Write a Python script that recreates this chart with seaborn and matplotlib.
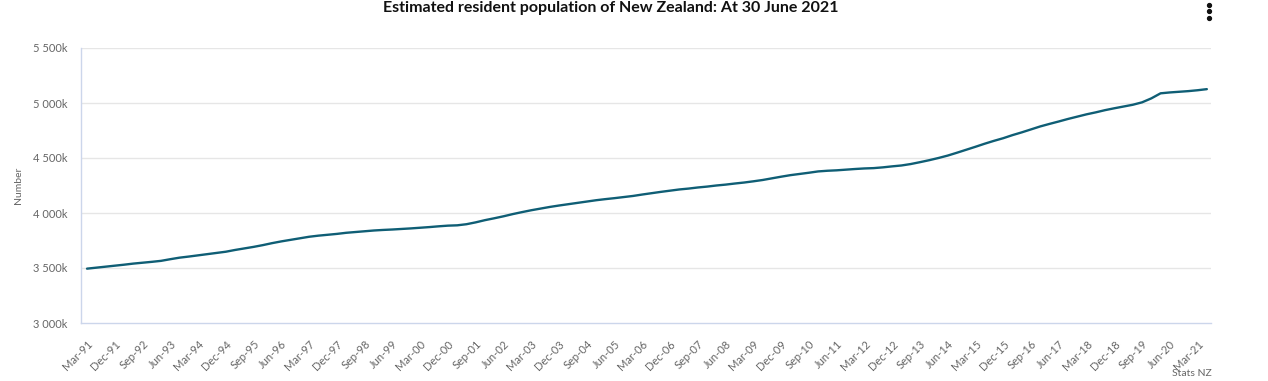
import matplotlib
matplotlib.use("Agg")
import matplotlib.pyplot as plt
from matplotlib.lines import Line2D
from matplotlib.ticker import FuncFormatter
import pandas as pd
import seaborn as sns

# Quarterly estimated resident population (thousands), Mar-91 .. Jun-21
years = list(range(1991, 2022))
months = ["Mar", "Jun", "Sep", "Dec"]
population_k = [
    3494, 3503, 3512, 3521,
    3530, 3540, 3548, 3556,
    3565, 3580, 3594, 3604,
    3615, 3626, 3637, 3648,
    3664, 3678, 3692, 3708,
    3726, 3742, 3756, 3770,
    3784, 3794, 3802, 3810,
    3820, 3827, 3834, 3841,
    3846, 3850, 3855, 3860,
    3866, 3872, 3879, 3885,
    3888, 3898, 3915, 3935,
    3952, 3970, 3990, 4008,
    4025, 4040, 4055, 4068,
    4080, 4092, 4104, 4116,
    4126, 4135, 4145, 4155,
    4168, 4180, 4192, 4203,
    4214, 4222, 4232, 4240,
    4250, 4258, 4268, 4277,
    4288, 4300, 4315, 4330,
    4344, 4355, 4366, 4378,
    4384, 4388, 4394, 4400,
    4405, 4408, 4415, 4424,
    4432, 4445, 4462, 4480,
    4500, 4522, 4548, 4575,
    4602, 4630, 4656, 4680,
    4708, 4733, 4760, 4787,
    4810, 4832, 4855, 4876,
    4897, 4915, 4935, 4952,
    4968, 4984, 5006, 5042,
    5088, 5096, 5102, 5108,
    5116, 5126,
]
quarters = [f"{m}-{str(y)[2:]}" for y in years for m in months][:len(population_k)]
y_ticks = [3000, 3500, 4000, 4500, 5000, 5500]

df = pd.DataFrame({"quarter": quarters, "value": population_k})
df["idx"] = range(len(df))

sns.set_style("white")
plt.rcParams["font.family"] = ["Lato", "DejaVu Sans"]

W, H = 1268, 381
fig = plt.figure(figsize=(W / 100, H / 100), dpi=100)
ax = fig.add_axes([81 / W, 1 - 323 / H, (1211 - 81) / W, (323 - 48) / H])

grid_col = "#e6e6e6"
axis_col = "#ccd6eb"
text_col = "#666666"

for v in y_ticks[1:]:
    ax.axhline(v, color=grid_col, lw=1, zorder=0)

sns.lineplot(data=df, x="idx", y="value", ax=ax, color="#0f5e75", lw=1.7)

ax.set_xlim(-0.65, 121.45)
ax.set_ylim(3000, 5500)
ax.set_yticks(y_ticks)
ax.yaxis.set_major_formatter(FuncFormatter(lambda v, p: f"{v:,.0f}".replace(",", " ") + "k"))
tick_idx = list(range(0, len(quarters), 3))
ax.set_xticks(tick_idx)
ax.set_xticklabels([quarters[i] for i in tick_idx], rotation=45, ha="right",
                   rotation_mode="anchor", fontsize=8, color=text_col)
ax.tick_params(axis="x", length=8, width=1, color=axis_col, pad=3)
ax.tick_params(axis="y", length=0, pad=10, labelsize=8, labelcolor=text_col)
ax.set_xlabel("")
ax.set_ylabel("")

for s in ["top", "right"]:
    ax.spines[s].set_visible(False)
for s in ["left", "bottom"]:
    ax.spines[s].set_color(axis_col)
    ax.spines[s].set_linewidth(1)

fig.text(19 / W, 1 - 185 / H, "Number", rotation=90, ha="center", va="center",
         fontsize=7.5, color=text_col)
fig.text(611 / W, 1 - 8 / H, "Estimated resident population of New Zealand: At 30 June 2021",
         ha="center", va="center", fontsize=11.5, fontweight="bold", color="#111111")
fig.text(1212 / W, 1 - 373 / H, "Stats NZ", ha="right", va="center", fontsize=7.5,
         color=text_col)

for yy in [4.5, 11, 17.5]:
    fig.add_artist(Line2D([1209 / W], [1 - yy / H], marker="o", markersize=2.8,
                          color="#111111", transform=fig.transFigure))

fig.savefig("out.png", dpi=100)
